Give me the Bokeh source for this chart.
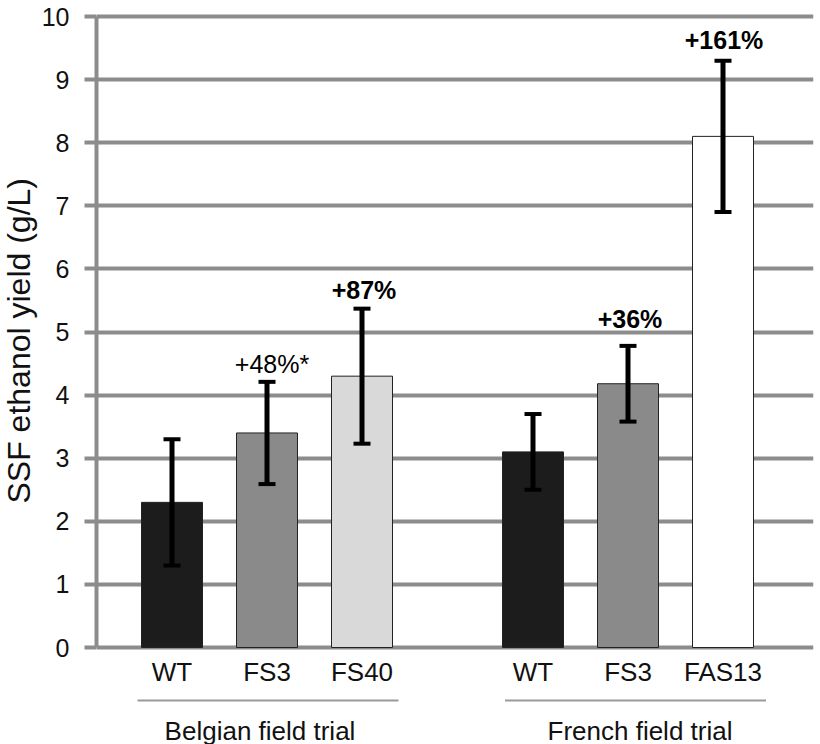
from bokeh.plotting import figure
from bokeh.models import Range1d, FixedTicker, ColumnDataSource, Title
from bokeh.core.properties import value
from bokeh.embed import file_html
from bokeh.resources import INLINE

# ---- data ----
groups = ["Belgian field trial", "French field trial"]
lines = ["WT", "FS3", "FS40", "WT", "FS3", "FAS13"]
line_group = [0, 0, 0, 1, 1, 1]
yield_mean = [2.3, 3.4, 4.3, 3.1, 4.18, 8.1]
yield_err = [1.0, 0.81, 1.07, 0.6, 0.6, 1.2]
gain_labels = ["", "+48%*", "+87%", "", "+36%", "+161%"]
gain_bold = [False, False, True, False, True, True]
y_ticks = [0, 1, 2, 3, 4, 5, 6, 7, 8, 9, 10]
y_title = "SSF ethanol yield (g/L)"

# ---- style ----
bar_colors = ["#1c1c1c", "#8a8a8a", "#d9d9d9", "#1c1c1c", "#8a8a8a", "#ffffff"]
label_gap_px = [18, 18, 19, 18, 27, 21]
label_dx_px = [0, 5, 2, 0, 2, 1]
group_text_dx_px = [-7, 12]
group_line_dx_px = [1, 7.5]
FONT = "Liberation Sans"
GRID = "#8c8c8c"
PX_PER_X = 95.0
PX_PER_Y = 63.1
GROUP_SHIFT = 3.8

xs = [i - 3 * g + g * GROUP_SHIFT for i, g in enumerate(line_group)]
lo = [m - e for m, e in zip(yield_mean, yield_err)]
hi = [m + e for m, e in zip(yield_mean, yield_err)]
cap = 8.5 / PX_PER_X

W, H = 820, 744
left, right, top = 96, 7, 12
frame_w = W - left - right
frame_h = H - top
y_top = 10 + 4 / PX_PER_Y
y_bot = y_top - frame_h / PX_PER_Y
x_start = -75.5 / PX_PER_X
x_end = x_start + frame_w / PX_PER_X

p = figure(width=W, height=H, output_backend="svg", toolbar_location=None,
           x_range=Range1d(x_start, x_end), y_range=Range1d(y_bot, y_top),
           x_axis_location=None, min_border_left=left, min_border_right=right,
           min_border_top=top, min_border_bottom=0)
p.outline_line_color = None
p.xgrid.visible = False
p.background_fill_color = "white"

ax = p.yaxis[0]
ax.ticker = FixedTicker(ticks=y_ticks)
ax.bounds = (0, 10)
ax.axis_line_width = 4
ax.axis_line_color = GRID
ax.major_tick_line_width = 4
ax.major_tick_line_color = GRID
ax.major_tick_out = 12
ax.major_tick_in = 0
ax.minor_tick_line_color = None
ax.major_label_text_font = FONT
ax.major_label_text_font_size = "25px"
ax.major_label_text_color = "#111111"
ax.major_label_standoff = 15

p.ygrid.ticker = FixedTicker(ticks=y_ticks)
p.ygrid.grid_line_color = GRID
p.ygrid.grid_line_width = 4

src = ColumnDataSource(dict(x=xs, top=yield_mean, lo=lo, hi=hi, color=bar_colors,
                            cl=[x - cap for x in xs], cr=[x + cap for x in xs]))
p.vbar(x="x", top="top", bottom=0, width=61 / PX_PER_X, fill_color="color",
       line_color="#222222", line_width=1, source=src)
p.segment(x0="x", y0="lo", x1="x", y1="hi", line_width=5, line_color="black", source=src)
p.segment(x0="cl", y0="lo", x1="cr", y1="lo", line_width=4, line_color="black", source=src)
p.segment(x0="cl", y0="hi", x1="cr", y1="hi", line_width=4, line_color="black", source=src)

for bold in (True, False):
    idx = [i for i, t in enumerate(gain_labels) if t and gain_bold[i] == bold]
    s = ColumnDataSource(dict(x=[xs[i] for i in idx], y=[hi[i] for i in idx],
                              t=[gain_labels[i] for i in idx],
                              dy=[-label_gap_px[i] for i in idx],
                              dx=[label_dx_px[i] for i in idx]))
    p.text(x="x", y="y", text="t", x_offset="dx", y_offset="dy", source=s,
           text_align="center", text_baseline="middle",
           text_font=value(FONT), text_font_size="25px",
           text_font_style="bold" if bold else "normal", text_color="black")

# category labels
p.text(x=xs, y=[-24.6 / PX_PER_Y] * len(xs), text=lines, text_align="center",
       text_baseline="middle", text_font=value(FONT), text_font_size="26px",
       text_color="#111111")

# group separators and labels
gx = [sum(x for x, g in zip(xs, line_group) if g == k) / 3 for k in range(len(groups))]
half = 130.5 / PX_PER_X
lc = [c + d / PX_PER_X for c, d in zip(gx, group_line_dx_px)]
p.segment(x0=[c - half for c in lc], y0=[-53 / PX_PER_Y] * len(gx),
          x1=[c + half for c in lc], y1=[-53 / PX_PER_Y] * len(gx),
          line_width=2, line_color="#9a9a9a")
p.text(x=gx, y=[-83 / PX_PER_Y] * len(gx), text=groups, x_offset=group_text_dx_px,
       text_align="center", text_baseline="middle", text_font=value(FONT),
       text_font_size="26px", text_color="#111111")

# y-axis title (side title so it can sit outside the frame)
p.add_layout(Title(text=y_title, align="left", offset=241, standoff=0,
                   vertical_align="top",
                   text_font=FONT, text_font_size="32px", text_font_style="normal",
                   text_color="#111111"), "left")

open("out.html", "w").write(file_html(p, INLINE))
